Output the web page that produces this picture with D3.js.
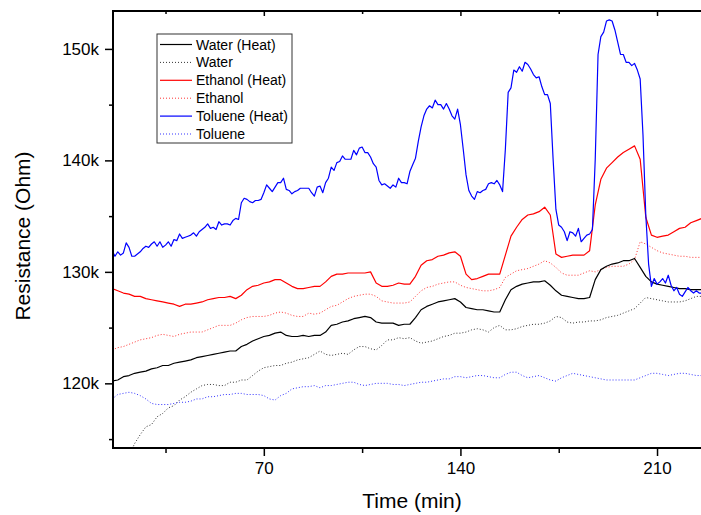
<!doctype html>
<html>
   <head>
      <meta charset="utf-8">
      <title>Resistance vs time</title>
      <style>
         body { margin: 0; background: #fff; }
         text { font-family: "Liberation Sans", Arial, sans-serif; }
      </style>
   </head>
   <body>
      <div id="here"></div>
      <script src="https://d3js.org/d3.v7.min.js"></script>
      <script>
         // sampling grids (min): every 2 min, toluene (heat) every minute
         var time = d3.range(16, 228, 2);
         var timeFine = d3.range(16, 227, 1);

         // resistance in kOhm
         var waterHeat = [120.2,120.3,120.6,120.7,120.9,121.0,121.1,121.3,121.4,121.6,121.6,121.8,121.9,122.0,122.1,122.3,122.4,122.5,122.6,122.7,
            122.8,122.9,122.9,123.3,123.5,123.8,124.0,124.2,124.3,124.5,124.6,124.3,124.2,124.2,124.3,124.2,124.3,124.3,124.6,125.2,
            125.3,125.5,125.6,125.8,125.9,126.0,125.9,125.5,125.4,125.4,125.4,125.2,125.3,125.3,125.9,126.6,126.9,127.1,127.3,127.4,
            127.5,127.6,127.3,126.8,126.7,126.6,126.6,126.5,126.4,126.4,127.5,128.4,128.7,128.9,129.0,129.1,129.1,129.2,128.8,128.3,
            127.9,127.8,127.7,127.6,127.6,127.7,129.3,130.2,130.5,130.7,130.8,131.0,131.0,131.2,130.4,129.6,129.1,128.9,128.8,128.7,
            128.6,128.5,128.5,128.4,128.4,128.4];
         var water = [110.2,111.3,112.4,113.5,114.6,115.4,116.1,116.3,117.0,117.3,117.8,118.0,118.5,118.8,119.2,119.5,119.8,119.9,119.9,119.8,
            119.8,120.1,120.1,120.3,120.3,120.7,121.1,121.4,121.5,121.6,121.6,121.8,121.9,122.1,122.2,122.3,122.6,122.9,122.6,122.5,
            122.6,122.7,122.6,123.0,123.3,123.3,123.1,123.0,123.4,123.9,123.9,124.1,124.0,124.1,123.8,123.6,123.7,123.8,124.0,124.2,
            124.3,124.5,124.5,124.6,124.8,124.9,124.8,124.6,125.0,125.2,124.8,124.8,124.9,125.1,125.2,125.3,125.3,125.4,125.6,126.0,
            125.9,125.5,125.4,125.5,125.5,125.6,125.6,125.7,125.9,126.0,126.1,126.3,126.5,126.7,127.2,127.7,127.6,127.5,127.4,127.3,
            127.3,127.3,127.4,127.6,127.8,127.8];
         var ethanolHeat = [128.5,128.3,128.1,128.0,127.8,127.8,127.6,127.5,127.4,127.3,127.2,127.1,126.9,127.1,127.1,127.2,127.3,127.5,127.6,127.7,
            127.7,127.8,127.6,127.9,128.4,128.7,128.8,129.0,129.1,129.3,129.3,129.0,128.7,128.5,128.5,128.6,128.7,128.7,129.1,129.6,
            129.8,129.8,129.9,129.9,129.9,129.9,130.0,129.0,128.7,128.7,128.8,129.0,128.9,128.9,129.6,130.6,131.0,131.1,131.4,131.5,
            131.7,131.8,131.4,129.8,129.3,129.4,129.6,129.8,129.8,129.8,131.5,133.2,134.0,134.7,135.1,135.2,135.4,135.8,135.1,131.6,
            131.3,131.4,131.5,131.5,131.5,131.9,136.0,138.3,139.3,139.8,140.3,140.7,141.0,141.3,140.1,134.9,133.3,133.1,133.2,133.3,
            133.6,133.9,134.0,134.4,134.6,134.8];
         var ethanol = [123.0,123.2,123.3,123.5,123.7,123.9,124.0,124.1,124.3,124.4,124.3,124.2,124.4,124.5,124.6,124.6,124.6,124.8,125.0,125.2,
            125.2,125.2,125.4,125.7,125.9,126.0,126.0,126.0,126.1,126.3,126.4,126.3,126.1,126.0,126.0,126.3,126.2,126.3,126.6,126.9,
            127.0,127.3,127.6,127.8,127.9,128.0,128.0,127.8,127.4,127.3,127.2,127.2,127.2,127.3,127.8,128.3,128.6,128.7,128.9,129.0,
            129.1,129.1,128.8,128.6,128.5,128.4,128.3,128.3,128.4,128.6,129.5,129.8,130.1,130.2,130.3,130.5,130.7,131.0,130.8,130.4,
            129.9,129.7,129.7,129.7,129.9,130.1,130.0,130.2,130.4,130.5,130.5,130.5,130.7,131.1,132.7,132.5,132.2,131.9,131.7,131.6,
            131.5,131.4,131.4,131.3,131.3,131.3];
         var tolueneHeat = [131.9,131.4,131.8,131.5,131.7,132.6,132.2,131.4,131.4,131.6,
            131.8,132.1,132.3,132.2,132.5,132.7,132.3,132.7,132.2,132.4,
            132.7,132.3,132.9,132.8,133.4,133.0,133.1,133.2,133.3,133.5,
            133.2,133.6,133.8,134.0,134.3,133.9,134.0,133.8,134.5,134.2,
            134.3,134.3,134.2,134.6,134.8,134.7,136.2,136.6,136.5,136.3,
            136.2,136.4,136.4,136.5,137.1,137.8,137.5,137.2,137.6,138.0,
            138.0,138.4,137.4,137.3,137.0,137.2,137.3,137.5,137.5,137.5,
            137.5,137.1,136.8,137.6,137.7,137.1,138.0,138.4,139.4,139.1,
            139.8,139.9,140.4,140.1,140.1,140.1,140.9,140.5,141.1,141.2,
            140.7,140.7,140.3,139.7,139.4,138.2,137.8,137.9,137.7,137.5,
            137.8,137.6,138.4,138.0,138.0,137.9,139.0,139.6,140.2,141.7,
            143.0,144.0,144.6,144.9,144.7,145.4,145.0,145.0,144.6,145.1,
            144.6,144.0,143.7,144.6,143.2,141.0,138.7,137.3,136.8,136.5,
            137.2,137.1,137.3,137.4,137.9,138.0,137.9,138.2,137.8,137.2,
            141.0,146.1,146.5,148.1,147.9,148.4,148.0,148.8,148.6,148.2,
            147.7,147.4,147.5,146.6,145.9,145.9,145.1,140.1,135.6,134.2,
            134.0,133.6,132.8,133.6,133.5,133.2,133.9,132.7,133.0,133.3,
            133.4,133.8,140.1,149.5,151.1,151.5,152.5,152.6,152.5,151.7,
            150.6,149.5,149.5,148.8,148.8,148.5,148.7,148.1,147.3,142.3,
            135.1,130.7,128.7,129.4,128.9,129.1,129.4,129.0,129.7,128.8,
            128.3,128.6,128.0,127.8,128.2,128.6,128.3,128.1,128.3,128.1,
            128.1];
         var toluene = [118.6,119.0,119.1,119.2,119.1,118.9,118.6,118.2,118.1,118.1,118.1,118.2,118.3,118.3,118.4,118.6,118.6,118.8,118.8,118.9,
            119.0,119.0,119.1,119.1,119.0,119.0,119.0,118.9,118.6,118.5,118.9,119.1,119.5,119.6,119.7,119.7,119.8,119.6,119.8,119.8,
            119.9,120.0,120.1,120.1,119.9,119.8,119.9,120.0,120.0,120.0,119.9,119.9,119.8,119.9,120.0,120.1,120.1,120.2,120.3,120.4,
            120.4,120.6,120.6,120.5,120.6,120.7,120.7,120.6,120.5,120.5,120.8,121.0,121.0,120.7,120.5,120.6,120.7,120.5,120.3,120.2,
            120.5,120.7,120.9,120.8,120.7,120.6,120.5,120.4,120.3,120.3,120.3,120.3,120.3,120.3,120.5,120.7,120.9,120.9,120.8,120.7,
            120.8,120.9,120.9,120.8,120.7,120.7];

         var names = ["Water (Heat)", "Water", "Ethanol (Heat)", "Ethanol", "Toluene (Heat)", "Toluene"];
         var values = [waterHeat, water, ethanolHeat, ethanol, tolueneHeat, toluene];
         var times = [time, time, time, time, timeFine, time];
         var colors = ["#000000", "#000000", "#ff0000", "#ff0000", "#0000ff", "#0000ff"];
         var dotted = [false, true, false, true, false, true];

         var xMajor = [70, 140, 210], xMinor = [35, 105, 175];
         var yMajor = [120, 130, 140, 150], yMinor = [115, 125, 135, 145];

         var w = 701, h = 515;
         var pLeft = 113, pRight = 700, pTop = 11, pBottom = 448;

         var x = d3.scaleLinear().domain([16.3, 225.3]).range([pLeft, pRight]);
         var y = d3.scaleLinear().domain([114.2, 153.4]).range([pBottom, pTop]);

         var svg = d3.select("#here").append("svg")
            .attr("width", w)
            .attr("height", h);

         svg.append("clipPath").attr("id", "clip")
            .append("rect")
            .attr("x", pLeft).attr("y", pTop)
            .attr("width", w - pLeft).attr("height", pBottom - pTop);

         function lineFor(k) {
            var t = times[k];
            return d3.line()
               .defined(function(d, i) { return t[i] !== undefined; })
               .x(function(d, i) { return x(t[i]); })
               .y(function(d) { return y(d); })(values[k]);
         }

         // dotted series first, heat series on top
         var order = [1, 3, 5, 0, 2, 4];
         svg.append("g").attr("clip-path", "url(#clip)")
            .selectAll("path")
            .data(order)
            .enter()
            .append("path")
            .attr("d", lineFor)
            .attr("fill", "none")
            .attr("stroke", function(k) { return colors[k]; })
            .attr("stroke-width", function(k) { return dotted[k] ? 1 : 1.2; })
            .attr("stroke-opacity", function(k) { return dotted[k] ? 0.8 : 1; })
            .attr("stroke-dasharray", function(k) { return dotted[k] ? "1,2" : null; })
            .attr("stroke-linejoin", "round");

         // axes
         var fmt = function(d) { return d + "k"; };

         var gx = svg.append("g").attr("transform", "translate(0," + pBottom + ")");
         gx.call(d3.axisBottom(x).tickValues(xMajor).tickSize(8).tickPadding(6));
         gx.append("g").call(d3.axisBottom(x).tickValues(xMinor).tickSize(5).tickFormat(""));

         var gt = svg.append("g").attr("transform", "translate(0," + pTop + ")");
         gt.call(d3.axisTop(x).tickValues(xMajor).tickSize(-5).tickFormat(""));
         gt.append("g").call(d3.axisTop(x).tickValues(xMinor).tickSize(-3).tickFormat(""));

         var gy = svg.append("g").attr("transform", "translate(" + pLeft + ",0)");
         gy.call(d3.axisLeft(y).tickValues(yMajor).tickSize(8).tickPadding(6).tickFormat(fmt));
         gy.append("g").call(d3.axisLeft(y).tickValues(yMinor).tickSize(4).tickFormat(""));

         svg.selectAll(".domain").remove();
         svg.selectAll(".tick line").attr("stroke", "#000").attr("stroke-width", 1.5);
         svg.selectAll(".tick text").attr("font-size", 17).attr("fill", "#000")
            .style("font-family", "'Liberation Sans', Arial, sans-serif");

         // frame lines
         svg.append("line").attr("x1", pLeft).attr("x2", w).attr("y1", pBottom).attr("y2", pBottom)
            .attr("stroke", "#000").attr("stroke-width", 2);
         svg.append("line").attr("x1", pLeft).attr("x2", w).attr("y1", pTop).attr("y2", pTop)
            .attr("stroke", "#000").attr("stroke-width", 2);
         svg.append("line").attr("x1", pLeft).attr("x2", pLeft).attr("y1", pTop - 1).attr("y2", pBottom + 1)
            .attr("stroke", "#000").attr("stroke-width", 2);

         // titles
         svg.append("text")
            .attr("x", 412).attr("y", 508)
            .attr("text-anchor", "middle")
            .attr("font-size", 21)
            .text("Time (min)");
         svg.append("text")
            .attr("transform", "translate(30,236) rotate(-90)")
            .attr("text-anchor", "middle")
            .attr("font-size", 21)
            .text("Resistance (Ohm)");

         // legend
         var lg = svg.append("g");
         lg.append("rect")
            .attr("x", 157).attr("y", 34)
            .attr("width", 135).attr("height", 109)
            .attr("fill", "#fff")
            .attr("stroke", "#333")
            .attr("stroke-width", 1);

         var item = lg.selectAll("g.item")
            .data(names)
            .enter()
            .append("g")
            .attr("class", "item")
            .attr("transform", function(d, i) { return "translate(0," + (44.5 + i * 17.9) + ")"; });

         item.append("line")
            .attr("x1", 160).attr("x2", 192)
            .attr("stroke", function(d, i) { return colors[i]; })
            .attr("stroke-width", function(d, i) { return dotted[i] ? 1 : 1.2; })
            .attr("stroke-opacity", function(d, i) { return dotted[i] ? 0.8 : 1; })
            .attr("stroke-dasharray", function(d, i) { return dotted[i] ? "1,2" : null; });

         item.append("text")
            .attr("x", 196).attr("y", 5)
            .attr("font-size", 14)
            .text(function(d) { return d; });
      </script>
   </body>
</html>
